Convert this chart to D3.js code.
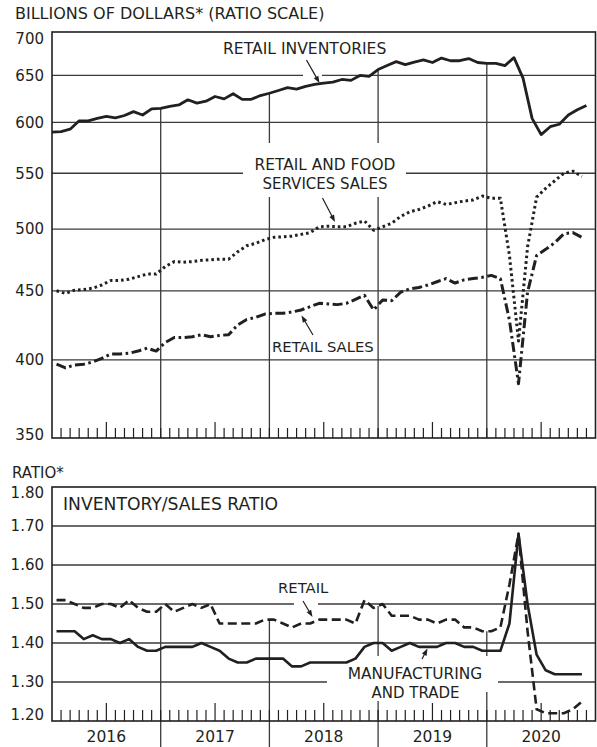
<!DOCTYPE html>
<html><head><meta charset="utf-8">
<script src="https://cdn.jsdelivr.net/npm/d3@7"></script>
<style>
html,body{margin:0;padding:0;background:#fff;}
svg{display:block;}
text{font-family:"DejaVu Sans",sans-serif;fill:#231f20;}
</style></head><body>
<svg id="chart" width="597" height="747"></svg>
<script>
// ---------- data (monthly, Jan 2016 ...) ----------
const years = ["2016","2017","2018","2019","2020"];
// end-of-month inventories (Dec 2015 .. Nov 2020), billions of dollars
const retailInventories = [590,590.5,593,601.5,601.5,604,606,604.5,607,611,607.5,614,
  614.5,616.5,618,623.5,620,622,627,624.5,630,624,624,628,
  630.5,633.5,636.5,635,638,640,641.5,642.5,645.5,644.5,650,649,
  656.5,661,665.5,662,665,667.5,664.5,669.5,666.5,666.5,669,664.5,
  663.5,663.5,661,670,647,604,587.5,595.5,598,607.5,613,617.5];
// monthly sales Jan 2016 .. Nov 2020
const retailFoodServicesSales = [450,448,450.5,451,452,454.5,458,458,459,461,463,463,
  469,473,472.5,473,474,474.5,475,475,481,486,488,491,
  493,493.5,494,495.5,497,502,502.5,502,502,505,507,499,
  502,505,511,515,517,520,524,521.5,523,524.5,525.5,529,
  527,527,478,413,485,528,536,543,550,552,547];
const retailSales = [397,394.5,396.5,397,398.5,401,404,404,404.5,406,408,406,
  412,415.5,415.5,416,417.5,416,417,417.5,424.5,428.5,430,432.5,
  433,433,434,435.5,438,440.5,440,439.5,440.5,443.5,446.5,435.5,
  443,442.5,449,451.5,452.5,454.5,457,459.5,456,458.5,459.5,460.5,
  462,459.5,428,384,449,478,483,488.5,496,497,493];
const retailRatio = [1.51,1.51,1.50,1.49,1.49,1.50,1.50,1.49,1.51,1.49,1.48,1.48,
  1.50,1.48,1.49,1.50,1.49,1.50,1.45,1.45,1.45,1.45,1.45,1.46,
  1.46,1.45,1.44,1.45,1.45,1.46,1.46,1.46,1.46,1.45,1.51,1.49,
  1.50,1.47,1.47,1.47,1.46,1.46,1.45,1.46,1.46,1.44,1.44,1.43,
  1.43,1.44,1.55,1.68,1.43,1.23,1.22,1.22,1.22,1.23,1.25];
const mfgTradeRatio = [1.43,1.43,1.43,1.41,1.42,1.41,1.41,1.40,1.41,1.39,1.38,1.38,
  1.39,1.39,1.39,1.39,1.40,1.39,1.38,1.36,1.35,1.35,1.36,1.36,
  1.36,1.36,1.34,1.34,1.35,1.35,1.35,1.35,1.35,1.36,1.39,1.40,
  1.40,1.38,1.39,1.40,1.39,1.39,1.39,1.40,1.40,1.39,1.39,1.38,
  1.38,1.38,1.45,1.68,1.50,1.37,1.33,1.32,1.32,1.32,1.32];
const topTickValues = [350,400,450,500,550,600,650,700];
const topGridValues = [400,450,500,550,600,650];
const bottomTickValues = [1.2,1.3,1.4,1.5,1.6,1.7,1.8];
const bottomGridValues = [1.3,1.4,1.5,1.6,1.7];

// ---------- layout ----------
const INK = "#231f20", GRID = "#3a3a3a";
const L = 52, R = 595.5;
const T1 = 32, B1 = 438, T2 = 487, B2 = 721;
const svg = d3.select("#chart");

const x = d3.scaleLinear().domain([0, 60]).range([L, R]);
const yTop = d3.scaleLog().domain([350, 700]).range([B1, T1]);
const yBot = d3.scaleLinear().domain([1.2, 1.8]).range([B2, T2]);

const gGrid = svg.append("g");
const gMask = svg.append("g");
const gData = svg.append("g");
const gAnno = svg.append("g");

// horizontal gridlines
gGrid.selectAll("line.ht").data(topGridValues).join("line")
  .attr("x1", L).attr("x2", R).attr("y1", d => yTop(d)).attr("y2", d => yTop(d))
  .attr("stroke", GRID).attr("stroke-width", 1.3);
gGrid.selectAll("line.hb").data(bottomGridValues).join("line")
  .attr("x1", L).attr("x2", R).attr("y1", d => yBot(d)).attr("y2", d => yBot(d))
  .attr("stroke", GRID).attr("stroke-width", 1.3);

// vertical year lines hanging from the lines
const bounds = [12, 24, 36, 48];
gGrid.selectAll("line.vt").data(bounds).join("line")
  .attr("x1", d => x(d)).attr("x2", d => x(d))
  .attr("y1", d => yTop(retailInventories[d])).attr("y2", B1)
  .attr("stroke", GRID).attr("stroke-width", 1.3);
gGrid.selectAll("line.vb").data(bounds).join("line")
  .attr("x1", d => x(d)).attr("x2", d => x(d))
  .attr("y1", d => yBot((retailRatio[d - 1] + retailRatio[d]) / 2)).attr("y2", 747)
  .attr("stroke", GRID).attr("stroke-width", 1.3);

// month ticks
const months = d3.range(1, 60);
gGrid.selectAll("line.mt").data(months).join("line")
  .attr("x1", d => x(d)).attr("x2", d => x(d))
  .attr("y1", B1).attr("y2", d => B1 - (d % 12 === 6 ? 16 : 10))
  .attr("stroke", INK).attr("stroke-width", 1.2);
gGrid.selectAll("line.mb").data(months).join("line")
  .attr("x1", d => x(d)).attr("x2", d => x(d))
  .attr("y1", B2).attr("y2", d => B2 - (d % 12 === 6 ? 18 : 11))
  .attr("stroke", INK).attr("stroke-width", 1.2);

// white gaps behind labels / arrows
const masks = [
  [243, 143, 163, 54],   // RETAIL AND FOOD SERVICES SALES
  [303, 72, 19, 7],      // inventories arrow crossing 650
  [294, 600, 24, 7],     // RETAIL arrow crossing 1.50
  [327, 656, 171, 36],   // MANUFACTURING
  [355, 692, 120, 9]     // AND TRADE
];
gMask.selectAll("rect").data(masks).join("rect")
  .attr("x", d => d[0]).attr("y", d => d[1]).attr("width", d => d[2]).attr("height", d => d[3])
  .attr("fill", "#fff");

// frames
svg.append("rect").attr("x", L).attr("y", T1).attr("width", R - L).attr("height", B1 - T1)
  .attr("fill", "none").attr("stroke", INK).attr("stroke-width", 1.6);
svg.append("rect").attr("x", L).attr("y", T2).attr("width", R - L).attr("height", B2 - T2)
  .attr("fill", "none").attr("stroke", INK).attr("stroke-width", 1.6);

// ---------- data lines ----------
const lineInv = d3.line().x((d, i) => x(i)).y(d => yTop(d));
const lineSalesTop = d3.line().x((d, i) => x(i + 0.5)).y(d => yTop(d));
const lineRatio = d3.line().x((d, i) => x(i + 0.5)).y(d => yBot(d));

function drawLine(data, gen, width, dash) {
  gData.append("path").datum(data).attr("d", gen)
    .attr("fill", "none").attr("stroke", INK).attr("stroke-width", width)
    .attr("stroke-linejoin", "round").attr("stroke-dasharray", dash || null);
}
drawLine(retailInventories, lineInv, 2.8);
drawLine(retailFoodServicesSales, lineSalesTop, 3, "2.6,3");
drawLine(retailSales, lineSalesTop, 3, "10,3.5,2.6,3.5");
drawLine(mfgTradeRatio, lineRatio, 2.6);
drawLine(retailRatio, lineRatio, 2.6, "9,4.5");

// ---------- axes labels ----------
const axTop = d3.axisLeft(yTop).tickValues(topTickValues).tickFormat(d3.format("d"))
  .tickSize(0).tickPadding(8);
const gAxT = svg.append("g").attr("transform", `translate(${L},0)`).call(axTop);
gAxT.select(".domain").remove();
gAxT.selectAll("text").attr("font-size", 15).attr("fill", INK)
  .attr("font-family", '"DejaVu Sans",sans-serif')
  .attr("y", d => d === 700 ? 7 : (d === 350 ? -3 : 0));

const axBot = d3.axisLeft(yBot).tickValues(bottomTickValues).tickFormat(d3.format(".2f"))
  .tickSize(0).tickPadding(8);
const gAxB = svg.append("g").attr("transform", `translate(${L},0)`).call(axBot);
gAxB.select(".domain").remove();
gAxB.selectAll("text").attr("font-size", 15).attr("fill", INK)
  .attr("font-family", '"DejaVu Sans",sans-serif')
  .attr("y", d => Math.abs(d - 1.8) < 1e-6 ? 6 : (Math.abs(d - 1.2) < 1e-6 ? -6 : 0));

// year labels
svg.selectAll("text.yr").data(years).join("text")
  .attr("x", (d, i) => x(12 * i + 6)).attr("y", 742)
  .attr("text-anchor", "middle").attr("font-size", 15.5).text(d => d);

// ---------- annotations ----------
function label(txt, xx, yy, size, anchor) {
  gAnno.append("text").attr("x", xx).attr("y", yy).attr("font-size", size)
    .attr("text-anchor", anchor || "start").text(txt);
}
label("BILLIONS OF DOLLARS* (RATIO SCALE)", 15, 18.5, 16);
label("RATIO*", 12, 478, 15);
label("RETAIL INVENTORIES", 223, 54, 15.6);
label("RETAIL AND FOOD", 325, 170, 15.4, "middle");
label("SERVICES SALES", 325, 188.5, 15, "middle");
label("RETAIL SALES", 272, 351.5, 14.8);
label("INVENTORY/SALES RATIO", 63, 510, 17.2);
label("RETAIL", 278, 593, 14.8);
label("MANUFACTURING", 415, 679, 15.4, "middle");
label("AND TRADE", 415.5, 697.5, 15, "middle");

function arrow(x1, y1, x2, y2) {
  const dx = x2 - x1, dy = y2 - y1, len = Math.hypot(dx, dy);
  const ux = dx / len, uy = dy / len, hl = 7, hw = 2.6;
  const bx = x2 - ux * hl, by = y2 - uy * hl;
  gAnno.append("line").attr("x1", x1).attr("y1", y1).attr("x2", bx + ux * 2).attr("y2", by + uy * 2)
    .attr("stroke", INK).attr("stroke-width", 1.2);
  gAnno.append("path")
    .attr("d", `M${x2},${y2}L${bx - uy * hw},${by + ux * hw}L${bx + uy * hw},${by - ux * hw}Z`)
    .attr("fill", INK);
}
arrow(306.5, 60, 319.5, 83);
arrow(322.5, 198, 335, 222);
arrow(313, 335, 301.5, 315.5);
arrow(303, 601, 312.5, 617);
arrow(422, 659, 427.5, 648.5);
</script>
</body></html>
